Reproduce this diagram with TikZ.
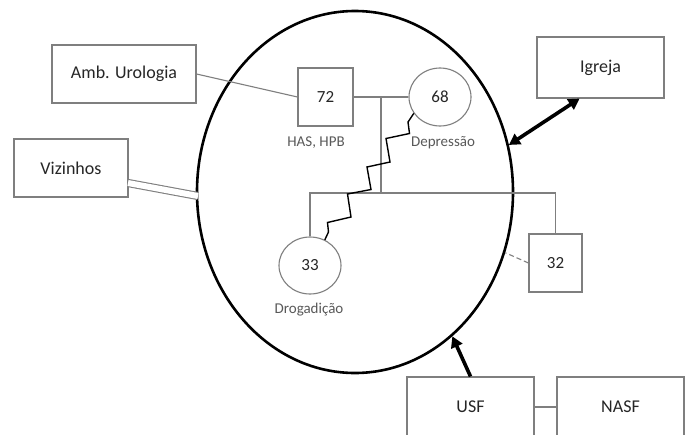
\documentclass[tikz,border=0pt]{standalone}
\usepackage{fontspec}
\setmainfont{Carlito}
\usetikzlibrary{shapes.geometric,arrows.meta}
\definecolor{boxgray}{HTML}{7F7F7F}
\definecolor{txtdark}{HTML}{262626}
\definecolor{txtgray}{HTML}{595959}
\tikzset{
  boxnode/.style={draw=boxgray, line width=1.1pt, rectangle, inner sep=0pt, text=txtdark, font=\fontsize{18}{20}\selectfont},
  numnode/.style={draw=boxgray, line width=1.1pt, inner sep=0pt, text=txtdark, font=\fontsize{17}{19}\selectfont},
  circnode/.style={numnode, ellipse},
  lbl/.style={text=txtgray, inner sep=0pt, font=\fontsize{15}{17}\selectfont},
  conn/.style={draw=boxgray, line width=1.1pt},
  strong/.style={draw=black, line width=3.6pt, -{Triangle[length=11pt,width=12pt]}},
  strongboth/.style={draw=black, line width=3.6pt, {Triangle[length=11pt,width=12pt]}-{Triangle[length=11pt,width=12pt]}},
  stress/.style={draw=black, line width=1.4pt, line join=miter},
}
\begin{document}
\begin{tikzpicture}[x=1pt,y=-1pt]
\useasboundingbox[fill=white] (0,0) rectangle (691,434);
% family ellipse
\node[draw=black, line width=2.6pt, ellipse, minimum width=316pt, minimum height=362pt, inner sep=0pt] (fam) at (355,192) {};
% boxes
\node[boxnode, minimum width=144pt, minimum height=58pt] (amb) at (124,74) {Amb. Urologia};
\node[boxnode, minimum width=114pt, minimum height=58pt] (viz) at (71,168) {Vizinhos};
\node[boxnode, minimum width=127pt, minimum height=61pt] (igreja) at (600.5,67.5) {Igreja};
\node[boxnode, minimum width=127pt, minimum height=60pt] (usf) at (470.5,407) {USF};
\node[boxnode, minimum width=127pt, minimum height=60pt] (nasf) at (620.5,407) {NASF};
% members
\node[numnode, minimum width=55pt, minimum height=58pt] (n72) at (325.5,97) {72};
\node[circnode, minimum width=62pt, minimum height=58pt] (n68) at (440,97) {68};
\node[circnode, minimum width=62pt, minimum height=57pt] (n33) at (310,265.5) {33};
\node[numnode, minimum width=53pt, minimum height=58pt] (n32) at (555.5,263) {32};
% labels
\node[lbl] (has) at (316,143) {HAS, HPB};
\node[lbl] (dep) at (443,143) {Depressão};
\node[lbl] (drog) at (309,310) {Drogadição};
% genogram lines
\coordinate (mid) at (381,97);
\coordinate (bar) at (381,193);
\draw[conn] (n72.east) -- (n68.west);
\draw[conn] (mid) -- (bar);
\draw[conn] (n33.north) -- (n33.north |- bar) -- (n32.north |- bar) -- (n32.north);
% conflict line
\draw[stress] (n68.212) -- (408,122) -- (409.5,133.5) -- (386,138.5) -- (390,162) -- (367,167) -- (371,189.5) -- (347.5,194) -- (351,217) -- (327.5,222.5) -- (328.5,232) -- (n33.60);
% external links
\draw[conn] (amb.east) -- (n72.west);
\coordinate (vizA) at (128,183);
\coordinate (vizB) at (198,196);
\draw[draw=boxgray, line width=1.1pt, double=white, double distance=6pt] (vizA) -- (vizB);
\draw[conn, dashed, dash pattern=on 5pt off 3pt] (n32.west) -- (fam.-22);
\draw[strongboth] (igreja.236) -- (fam.17);
\draw[strong] (usf.north) -- (fam.-56);
\draw[conn] (usf.east) -- (nasf.west);
\end{tikzpicture}
\end{document}
